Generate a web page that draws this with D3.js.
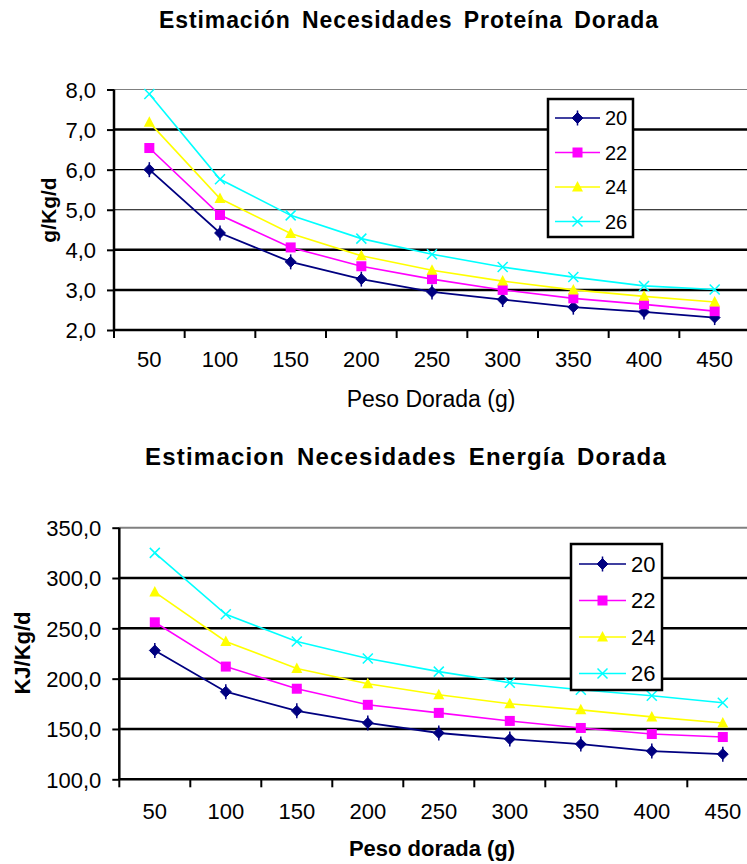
<!DOCTYPE html>
<html>
<head>
<meta charset="utf-8">
<script src="https://cdn.jsdelivr.net/npm/d3@7/dist/d3.min.js"></script>
<style>
  html, body { margin: 0; padding: 0; background: #fff; }
  svg { display: block; }
  text { font-family: "Liberation Sans", Arial, sans-serif; fill: #000; }
</style>
</head>
<body>
<svg id="chart" width="747" height="864"></svg>
<script>
// ---------- data ----------
const categories = ["50", "100", "150", "200", "250", "300", "350", "400", "450"];
const seriesNames = ["20", "22", "24", "26"];

const protein20 = [6.00, 4.42, 3.70, 3.27, 2.95, 2.76, 2.57, 2.45, 2.31];
const protein22 = [6.54, 4.87, 4.06, 3.59, 3.27, 3.00, 2.79, 2.64, 2.47];
const protein24 = [7.18, 5.28, 4.41, 3.85, 3.49, 3.22, 3.00, 2.84, 2.70];
const protein26 = [7.89, 5.76, 4.86, 4.28, 3.89, 3.57, 3.32, 3.10, 3.01];

const energy20 = [228, 187, 168, 156, 146, 140, 135, 128, 125];
const energy22 = [256, 212, 190, 174, 166, 158, 151, 145, 142];
const energy24 = [286, 237, 210, 195, 184, 175, 169, 162, 156];
const energy26 = [325, 264, 237, 220, 207, 196, 189, 183, 176];

const proteinTicks = [2, 3, 4, 5, 6, 7, 8];
const energyTicks = [100, 150, 200, 250, 300, 350];

const proteinTitle = "Estimación Necesidades Proteína Dorada";
const energyTitle = "Estimacion Necesidades Energía Dorada";

// ---------- styles ----------
const colors = ["#000080", "#FF00FF", "#FFFF00", "#00FFFF"];
const markers = ["diamond", "square", "triangle", "x"];

const svg = d3.select("#chart");
const fmt = v => d3.format(".1f")(v).replace(".", ",");

function drawMarker(g, type, color, cx, cy, s) {
  if (type === "diamond") {
    g.append("path")
      .attr("d", d3.symbol(d3.symbolDiamond2, s * s * 0.75)())
      .attr("transform", `translate(${cx},${cy})`)
      .attr("fill", color).attr("stroke", color).attr("stroke-width", 1);
    g.append("line").attr("x1", cx).attr("x2", cx).attr("y1", cy - s * 0.75).attr("y2", cy + s * 0.75)
      .attr("stroke", color).attr("stroke-width", 1.5);
  } else if (type === "square") {
    g.append("rect").attr("x", cx - s / 2).attr("y", cy - s / 2).attr("width", s).attr("height", s)
      .attr("fill", color);
  } else if (type === "triangle") {
    g.append("path")
      .attr("d", `M${cx},${cy - s * 0.6}L${cx + s * 0.55},${cy + s * 0.45}L${cx - s * 0.55},${cy + s * 0.45}Z`)
      .attr("fill", color);
  } else {
    const h = s / 2;
    g.append("path")
      .attr("d", `M${cx - h},${cy - h}L${cx + h},${cy + h}M${cx + h},${cy - h}L${cx - h},${cy + h}`)
      .attr("stroke", color).attr("stroke-width", 1.5).attr("fill", "none");
  }
}

function drawChart(cfg) {
  const g = svg.append("g");
  const x = d3.scaleBand().domain(categories).range([cfg.left, cfg.right]).padding(0);
  const y = d3.scaleLinear().domain(cfg.domain).range([cfg.bottom, cfg.top]);

  // title
  g.append("text").attr("x", cfg.titleX).attr("y", cfg.titleY)
    .attr("text-anchor", "middle").attr("font-weight", "bold")
    .attr("font-size", cfg.titleSize).attr("letter-spacing", cfg.titleLS)
    .attr("word-spacing", cfg.titleWS)
    .text(cfg.title);

  // gridlines
  cfg.ticks.forEach((t, i) => {
    if (t === cfg.domain[0]) return;
    const isTop = t === cfg.domain[1];
    g.append("line")
      .attr("x1", cfg.left).attr("x2", 747)
      .attr("y1", y(t)).attr("y2", y(t))
      .attr("stroke", isTop ? "#808080" : "#000")
      .attr("stroke-width", isTop ? cfg.topGridW : cfg.gridW(t));
  });

  // y axis
  const yAxis = d3.axisLeft(y).tickValues(cfg.ticks).tickFormat(fmt).tickSize(7).tickPadding(11);
  const ya = g.append("g").attr("transform", `translate(${cfg.left},0)`).call(yAxis);
  ya.select(".domain").attr("stroke", "#000").attr("stroke-width", 2.5)
    .attr("d", `M0,${cfg.top}V${cfg.bottom}`);
  ya.selectAll(".tick line").attr("stroke", "#000").attr("stroke-width", 2);
  ya.selectAll(".tick text").attr("font-size", 22).attr("font-family", "Liberation Sans, Arial, sans-serif")
    .attr("fill", "#000").attr("dy", "0.35em");

  // x axis
  const xa = g.append("g").attr("transform", `translate(0,${cfg.bottom})`);
  xa.append("line").attr("x1", cfg.left).attr("x2", 747).attr("y1", 0).attr("y2", 0)
    .attr("stroke", "#000").attr("stroke-width", 2.5);
  categories.forEach(c => {
    xa.append("line").attr("x1", x(c)).attr("x2", x(c)).attr("y1", 0).attr("y2", 8)
      .attr("stroke", "#000").attr("stroke-width", 2);
    xa.append("text").attr("x", x(c) + x.bandwidth() / 2).attr("y", cfg.xLabelY - cfg.bottom)
      .attr("text-anchor", "middle").attr("font-size", 22).text(c);
  });

  // axis titles
  g.append("text").attr("x", cfg.xTitleX).attr("y", cfg.xTitleY)
    .attr("text-anchor", "middle").attr("font-size", cfg.xTitleSize)
    .attr("font-weight", cfg.xTitleWeight).text(cfg.xTitle);
  g.append("text")
    .attr("transform", `translate(${cfg.yTitleX},${cfg.yTitleY}) rotate(-90)`)
    .attr("text-anchor", "middle").attr("font-size", cfg.yTitleSize)
    .attr("font-weight", "bold").text(cfg.yTitle);

  // series
  const line = d3.line().x((d, i) => x(categories[i]) + x.bandwidth() / 2).y(d => y(d));
  cfg.series.forEach((vals, si) => {
    g.append("path").datum(vals).attr("d", line)
      .attr("fill", "none").attr("stroke", colors[si]).attr("stroke-width", si === 0 ? 1.8 : 1.6);
    vals.forEach((v, i) => {
      drawMarker(g, markers[si], colors[si], x(categories[i]) + x.bandwidth() / 2, y(v), 10);
    });
  });

  // legend
  const L = cfg.legend;
  const lg = g.append("g");
  lg.append("rect").attr("x", L.x).attr("y", L.y).attr("width", L.w).attr("height", L.h)
    .attr("fill", "#fff").attr("stroke", "#000").attr("stroke-width", 2.5);
  seriesNames.forEach((n, i) => {
    const cy = L.y + L.first + i * L.step;
    lg.append("line").attr("x1", L.x + L.lx1).attr("x2", L.x + L.lx2).attr("y1", cy).attr("y2", cy)
      .attr("stroke", colors[i]).attr("stroke-width", 1.6);
    drawMarker(lg, markers[i], colors[i], L.x + (L.lx1 + L.lx2) / 2, cy, 10);
    lg.append("text").attr("x", L.x + L.tx).attr("y", cy).attr("dy", "0.36em")
      .attr("font-size", L.fs).text(n);
  });
}

drawChart({
  title: proteinTitle, titleX: 409, titleY: 28, titleSize: 23, titleLS: 0.9, titleWS: 4,
  left: 114, right: 750, top: 89.5, bottom: 330, domain: [2, 8], ticks: proteinTicks,
  topGridW: 1.2, gridW: t => (t === 5 || t === 6) ? 1.2 : 2.5,
  xLabelY: 367, xTitle: "Peso Dorada (g)", xTitleX: 431, xTitleY: 406.5, xTitleSize: 23, xTitleWeight: "normal",
  yTitle: "g/Kg/d", yTitleX: 56, yTitleY: 210, yTitleSize: 21,
  series: [protein20, protein22, protein24, protein26],
  legend: { x: 548, y: 99, w: 85, h: 138, first: 19, step: 34.5, lx1: 7, lx2: 52, tx: 57, fs: 20 }
});

drawChart({
  title: energyTitle, titleX: 406, titleY: 465, titleSize: 24, titleLS: 1.2, titleWS: 4,
  left: 119.3, right: 758.3, top: 527.7, bottom: 779.3, domain: [100, 350], ticks: energyTicks,
  topGridW: 2, gridW: t => 2.5,
  xLabelY: 819, xTitle: "Peso dorada (g)", xTitleX: 432, xTitleY: 856, xTitleSize: 22, xTitleWeight: "bold",
  yTitle: "KJ/Kg/d", yTitleX: 30, yTitleY: 653, yTitleSize: 22,
  series: [energy20, energy22, energy24, energy26],
  legend: { x: 571, y: 544, w: 91, h: 146, first: 20, step: 36.5, lx1: 8, lx2: 55, tx: 60, fs: 22 }
});
</script>
</body>
</html>
